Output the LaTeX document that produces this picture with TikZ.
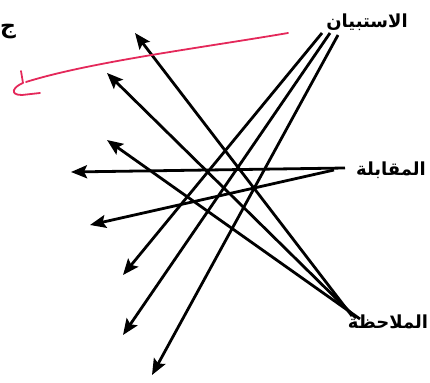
\documentclass[tikz,border=0pt]{standalone}
\usepackage{fontspec}
\usepackage{tikz}
\usetikzlibrary{arrows.meta, positioning, calc}
\TeXXeTstate=1
\newfontfamily\arabicfont[Script=Arabic]{DejaVu Sans}
\definecolor{penred}{RGB}{228,40,90}

\begin{document}
\begin{tikzpicture}[x=1pt, y=-1pt,
    arr/.style={line width=2.8pt, -{Stealth[length=16pt, width=13pt, inset=3pt]}},
    lbl/.style={font=\arabicfont\bfseries\fontsize{18}{22}\selectfont, inner sep=0pt}]
    \useasboundingbox (0,0) rectangle (430,382);

    % 标签
    \node[lbl] (istibyan) at (367, 22) {\beginR الاستبيان\endR};
    \node[lbl] (muqabala) at (391, 170) {\beginR المقابلة\endR};
    \node[lbl] (mulahaza) at (388, 322) {\beginR الملاحظة\endR};
    \node[font=\arabicfont\bfseries\fontsize{22}{24}\selectfont, inner sep=0pt] (jim) at (8, 32) {\beginR ج\endR};

    % 起点
    \coordinate (a1) at (322, 33);
    \coordinate (a2) at (330, 33);
    \coordinate (a3) at (338, 35);
    \coordinate (b1) at (345, 168);
    \coordinate (b2) at (334, 170);
    \coordinate (c1) at (352, 316);
    \coordinate (c2) at (356, 318);
    \coordinate (c3) at (360, 319);

    % 箭头终点
    \coordinate (ta1) at (123, 275);
    \coordinate (ta2) at (123, 335);
    \coordinate (ta3) at (152, 375);
    \coordinate (tb1) at (71, 172);
    \coordinate (tb2) at (90, 225);
    \coordinate (tc1) at (135, 33);
    \coordinate (tc2) at (107, 73);
    \coordinate (tc3) at (107, 140);

    % 连线
    \foreach \s/\t in {a1/ta1, a2/ta2, a3/ta3, b1/tb1, b2/tb2, c1/tc1, c2/tc2, c3/tc3} {
        \draw[arr] (\s) -- (\t);
    }

    % 红色批注
    \coordinate (r0) at (288, 33);
    \coordinate (r1) at (26, 82);
    \draw[penred, line width=1.8pt, line cap=round, line join=round]
        (r0) .. controls (200, 48) and (90, 62) .. (r1);
    \draw[penred, line width=1.8pt, line cap=round, line join=round]
        (21, 71) -- (23, 83) .. controls (13, 87) and (9, 95) .. (22, 95) -- (40, 93);
\end{tikzpicture}
\end{document}
